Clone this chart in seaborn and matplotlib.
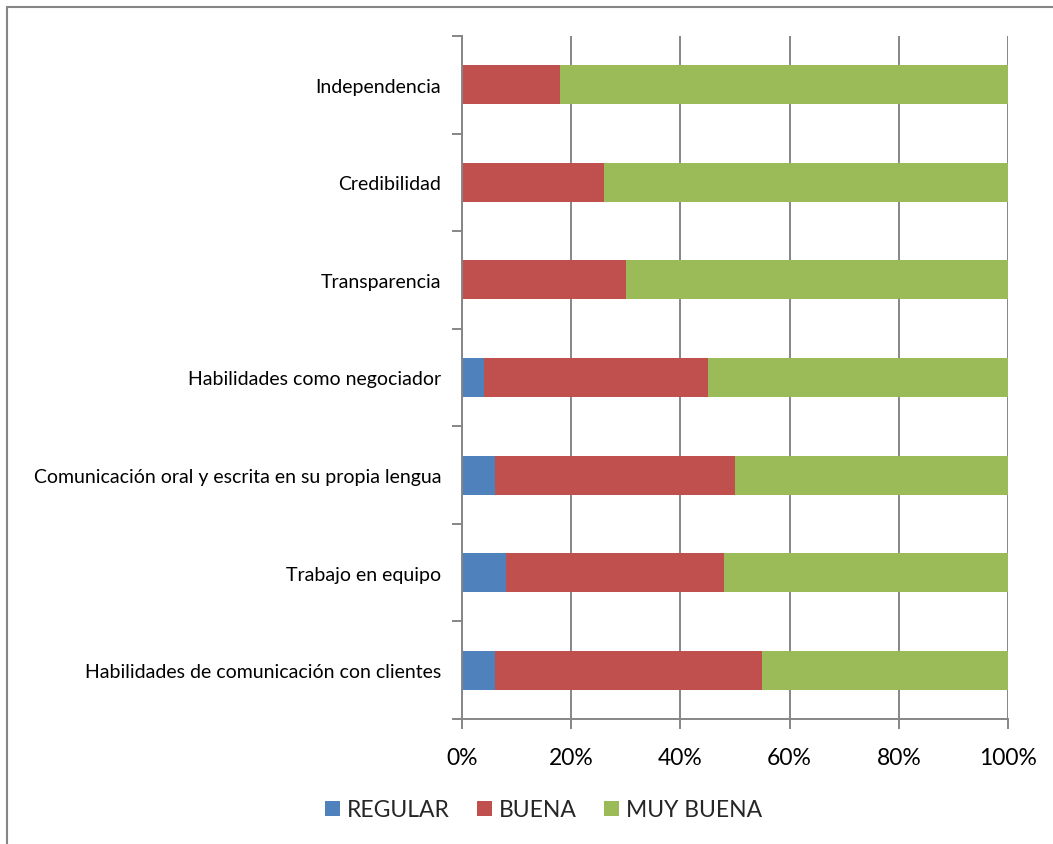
import numpy as np
import pandas as pd
import matplotlib
matplotlib.use("Agg")
import matplotlib.pyplot as plt
from matplotlib.patches import Patch, Rectangle
from matplotlib.ticker import FuncFormatter, FixedLocator
import seaborn as sns

# Competencias (de arriba hacia abajo) y porcentajes por valoración
categorias = [
    'Independencia',
    'Credibilidad',
    'Transparencia',
    'Habilidades como negociador',
    'Comunicación oral y escrita en su propia lengua',
    'Trabajo en equipo',
    'Habilidades de comunicación con clientes',
]
regular = [0, 0, 0, 4, 6, 8, 6]
buena = [18, 26, 30, 41, 44, 40, 49]
muy_buena = [82, 74, 70, 55, 50, 52, 45]

series = ['REGULAR', 'BUENA', 'MUY BUENA']
colores = ['#4F81BD', '#C0504D', '#9BBB59']

df = pd.DataFrame({'Categoria': categorias, 'REGULAR': regular,
                   'BUENA': buena, 'MUY BUENA': muy_buena})
# acumulados para apilar
df['c_regular'] = df['REGULAR']
df['c_buena'] = df['REGULAR'] + df['BUENA']
df['c_muy_buena'] = df['c_buena'] + df['MUY BUENA']

sns.set_theme(style="white")
plt.rcParams['font.family'] = ['Lato', 'DejaVu Sans']

fig = plt.figure(figsize=(10.53, 8.45), dpi=100)
ax = fig.add_axes([462 / 1053, 1 - 720 / 845, 546 / 1053, 683 / 845])

gris = '#868686'
ax.set_axisbelow(True)
ax.xaxis.grid(True, color=gris, linewidth=1.4)

for col, color in zip(['c_muy_buena', 'c_buena', 'c_regular'], colores[::-1]):
    sns.barplot(data=df, x=col, y='Categoria', order=categorias, color=color,
                orient='h', width=0.4, saturation=1, ax=ax, linewidth=0)

ax.set_xlim(0, 100)
ax.set_ylim(6.5, -0.5)
ax.set_xticks([0, 20, 40, 60, 80, 100])
ax.xaxis.set_major_formatter(FuncFormatter(lambda v, p: f'{v:.0f}%'))
ax.set_xlabel('')
ax.set_ylabel('')

ax.yaxis.set_minor_locator(FixedLocator(np.arange(-0.5, 7.0, 1.0)))
ax.tick_params(axis='y', which='major', length=0, pad=15, labelsize=14, labelcolor='black')
ax.tick_params(axis='y', which='minor', left=True, length=7, width=1.4, color=gris)
ax.tick_params(axis='x', which='major', bottom=True, length=7, width=1.4, color=gris,
               pad=13, labelsize=16.5, labelcolor='black')

for s in ['top', 'right']:
    ax.spines[s].set_visible(False)
for s in ['left', 'bottom']:
    ax.spines[s].set_color(gris)
    ax.spines[s].set_linewidth(1.4)

handles = [Patch(facecolor=c, edgecolor='none', label=s) for s, c in zip(series, colores)]
fig.legend(handles=handles, loc='center', bbox_to_anchor=(0.516, 1 - 811 / 845),
           ncol=3, frameon=False, fontsize=16.5, handlelength=0.65, handleheight=0.65,
           handletextpad=0.3, columnspacing=1.2)

# marco del gráfico
fig.patches.append(Rectangle((7 / 1053, -0.1), 1.2, 1 - 8 / 845 + 0.1,
                             transform=fig.transFigure, fill=False,
                             edgecolor=gris, linewidth=1.5))

fig.savefig('out.png', dpi=100)
